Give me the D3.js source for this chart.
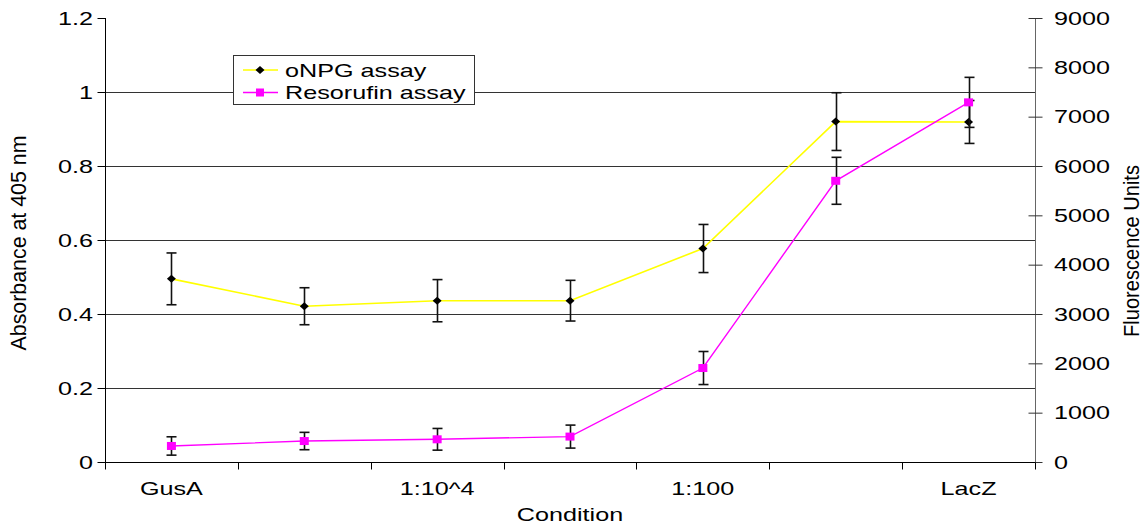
<!DOCTYPE html>
<html><head><meta charset="utf-8">
<script src="https://cdn.jsdelivr.net/npm/d3@7"></script>
<style>body{margin:0;background:#fff}svg text{font-family:"Liberation Sans",Arial,sans-serif;fill:#000}</style>
</head><body><svg id="c" width="1148" height="527"></svg>
<script>
const categories = ["GusA","c2","1:10^4","c4","1:100","c6","LacZ"];
const categoryLabels = ["GusA","","1:10^4","","1:100","","LacZ"];
const onpg = [0.495,0.421,0.436,0.436,0.577,0.92,0.919];
const onpgErr = [0.07,0.05,0.057,0.055,0.065,0.078,0.058];
const resorufin = [325,425,460,515,1905,5700,7290];
const resorufinErr = [186,176,220,233,335,476,507];
const leftTicks = [0,0.2,0.4,0.6,0.8,1,1.2];
const rightTicks = [0,1000,2000,3000,4000,5000,6000,7000,8000,9000];
const seriesNames = ["oNPG assay","Resorufin assay"];

const SX = 1.4, FS = 18;
const svg = d3.select("#c");
const L = 105, R = 1035, T = 18, B = 462;
const x = d3.scaleBand().domain(categories).range([L,R]).padding(0);
const cx = c => x(c) + x.bandwidth()/2;
const yL = d3.scaleLinear().domain([0,1.2]).range([B,T]);
const yR = d3.scaleLinear().domain([0,9000]).range([B,T]);

function stext(g, px, py, str, anchor, fs){
  return g.append("text").attr("transform",`translate(${px},${py}) scale(${SX},1)`)
    .attr("text-anchor",anchor).attr("font-size",fs||FS).text(str);
}

// gridlines
svg.append("g").selectAll("line").data(leftTicks.filter(d=>d>0&&d<1.2)).join("line")
  .attr("x1",L).attr("x2",R).attr("y1",d=>Math.round(yL(d))+0.5).attr("y2",d=>Math.round(yL(d))+0.5)
  .attr("stroke","#333").attr("stroke-width",1);

// left axis
const gl = svg.append("g").attr("transform",`translate(${L+0.5},0)`);
gl.call(d3.axisLeft(yL).tickValues(leftTicks).tickSize(8).tickFormat(()=>""));
gl.select(".domain").attr("stroke","#000").attr("d",`M0,${T}V${B}`);
gl.selectAll(".tick line").attr("stroke","#000");
leftTicks.forEach(v=>stext(svg, 93, yL(v)+6.5, d3.format("")(v), "end"));

// right axis
const gr = svg.append("g").attr("transform",`translate(${R+0.5},0)`);
gr.call(d3.axisRight(yR).tickValues(rightTicks).tickSize(7).tickFormat(()=>""));
gr.select(".domain").attr("stroke","#666").attr("d",`M0,${T}V${B}`);
gr.selectAll(".tick line").attr("stroke","#333").attr("x1",-7);
rightTicks.forEach(v=>stext(svg, 1054, yR(v)+6.5, String(v), "start"));

// x axis
const gx = svg.append("g").attr("transform",`translate(0,${B+0.5})`);
gx.call(d3.axisBottom(x).tickSize(0).tickFormat(()=>""));
gx.select(".domain").attr("stroke","#000").attr("d",`M${L},0H${R}`);
const bounds = categories.map(c=>x(c)).concat([R]);
gx.selectAll("line.b").data(bounds).join("line").attr("class","b")
  .attr("x1",d=>Math.round(d)+0.5).attr("x2",d=>Math.round(d)+0.5).attr("y1",0).attr("y2",7).attr("stroke","#000");
categories.forEach((c,i)=>{ if(categoryLabels[i]) stext(svg, cx(c), 495, categoryLabels[i], "middle"); });

// axis titles
stext(svg, 570, 521, "Condition", "middle");
svg.append("text").attr("transform",`translate(26,243) scale(${SX},1) rotate(-90)`)
  .attr("text-anchor","middle").attr("font-size",16).attr("textLength",215).attr("lengthAdjust","spacingAndGlyphs").text("Absorbance at 405 nm");
svg.append("text").attr("transform",`translate(1139,251) scale(${SX},1) rotate(-90)`)
  .attr("text-anchor","middle").attr("font-size",16).attr("textLength",172).attr("lengthAdjust","spacingAndGlyphs").text("Fluorescence Units");

// lines
const lineL = d3.line().x((d,i)=>cx(categories[i])).y(d=>yL(d));
const lineR = d3.line().x((d,i)=>cx(categories[i])).y(d=>yR(d));
svg.append("path").attr("d",lineL(onpg)).attr("fill","none").attr("stroke","#ffff00").attr("stroke-width",1.6);
svg.append("path").attr("d",lineR(resorufin)).attr("fill","none").attr("stroke","#ff00ff").attr("stroke-width",1.4);

function errbars(vals, errs, y){
  const g = svg.append("g").attr("stroke","#111").attr("stroke-width",1.6);
  vals.forEach((v,i)=>{
    const px = Math.round(cx(categories[i]))+0.5;
    const t = y(v+errs[i]), b = y(v-errs[i]);
    g.append("line").attr("x1",px).attr("x2",px).attr("y1",t).attr("y2",b);
    g.append("line").attr("x1",px-5).attr("x2",px+5).attr("y1",t).attr("y2",t);
    g.append("line").attr("x1",px-5).attr("x2",px+5).attr("y1",b).attr("y2",b);
  });
}
const diamond = (px,py)=>`M${px},${py-4}L${px+4.5},${py}L${px},${py+4}L${px-4.5},${py}Z`;
errbars(onpg, onpgErr, yL);
svg.append("g").selectAll("path").data(onpg).join("path")
  .attr("d",(d,i)=>diamond(cx(categories[i]), yL(d))).attr("fill","#000");
errbars(resorufin, resorufinErr, yR);
svg.append("g").selectAll("rect").data(resorufin).join("rect")
  .attr("x",(d,i)=>cx(categories[i])-4.5).attr("y",d=>yR(d)-4).attr("width",9).attr("height",8).attr("fill","#ff00ff");

// legend
const lg = svg.append("g");
lg.append("rect").attr("x",233.5).attr("y",55.5).attr("width",241).attr("height",49).attr("fill","#fff").attr("stroke","#333");
const colors = ["#ffff00","#ff00ff"];
[70,92.5].forEach((ly,i)=>{
  lg.append("line").attr("x1",243).attr("x2",278).attr("y1",ly).attr("y2",ly).attr("stroke",colors[i]).attr("stroke-width",1.6);
  if(i===0) lg.append("path").attr("d",diamond(260,ly)).attr("fill","#000");
  else lg.append("rect").attr("x",256).attr("y",ly-4).attr("width",8).attr("height",8).attr("fill","#ff00ff");
  stext(lg, 285, ly+6.5, seriesNames[i], "start");
});
</script></body></html>
